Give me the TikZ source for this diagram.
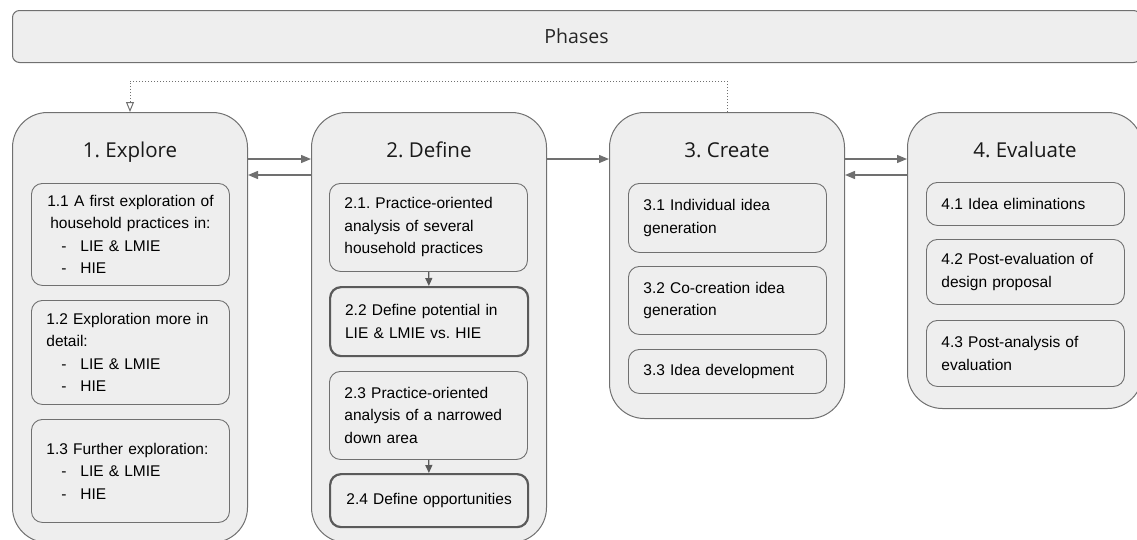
\documentclass[tikz,border=0pt]{standalone}
\usepackage{fontspec}
\setmainfont{Liberation Sans}
\newfontfamily\titlefont{Open Sans}
\usetikzlibrary{arrows.meta,positioning}
\definecolor{boxgray}{HTML}{EEEEEE}
\definecolor{linegray}{HTML}{707070}
\definecolor{darkline}{HTML}{5A5A5A}
\newcommand{\itm}[1]{\hspace*{15pt}\makebox[19pt][l]{-}#1}
\frenchspacing

\begin{document}
\begin{tikzpicture}[x=1pt,y=-1pt,
   phase/.style={draw=linegray, fill=boxgray, line width=1pt, rounded corners=35pt,
      anchor=north west, minimum width=235pt, inner sep=0pt},
   phasetitle/.style={anchor=base, font=\titlefont\fontsize{20.5}{24}\selectfont, text=black!90},
   task/.style={draw=linegray, fill=boxgray, line width=0.9pt, rounded corners=11pt,
      anchor=north west, minimum width=198pt, text width=168pt, inner xsep=15pt,
      inner ysep=0pt, align=left, font=\fontsize{15.5}{22.5}\selectfont, text=black},
   keytask/.style={task, draw=darkline, line width=2.2pt},
   link/.style={draw=linegray, line width=1.3pt, -{Triangle[length=10pt,width=8pt]}},
   seq/.style={draw=darkline, line width=1.2pt, -{Triangle[length=8pt,width=7pt]}}]
   \useasboundingbox (0,0) rectangle (1137,539);

   \node[draw=linegray, fill=boxgray, line width=1pt, rounded corners=7pt, anchor=north west,
      minimum width=1128pt, minimum height=52pt, inner sep=0pt,
      font=\titlefont\fontsize{19.5}{24}\selectfont, text=black!85] (phases) at (12,10) {Phases};

   \node[phase, minimum height=430pt] (explore) at (12,112) {};
   \node[phase, minimum height=430pt] (define) at (311,112) {};
   \node[phase, minimum height=306pt] (create) at (609,112) {};
   \node[phase, minimum height=296pt] (evaluate) at (907,112) {};

   \node[phasetitle] (t1) at ([yshift=-45pt]explore.north) {1. Explore};
   \node[phasetitle] (t2) at ([yshift=-45pt]define.north) {2. Define};
   \node[phasetitle] (t3) at ([yshift=-45pt]create.north) {3. Create};
   \node[phasetitle] (t4) at ([yshift=-45pt]evaluate.north) {4. Evaluate};

   \node[task, minimum height=102pt] (e1) at (31,183)
      {\makebox[168pt]{1.1 A first exploration of}\\\makebox[168pt]{household practices in:}\\\itm{LIE \& LMIE}\\\itm{HIE}};
   \node[task, minimum height=104pt] (e2) at (31,300)
      {1.2 Exploration more in\\detail:\\\itm{LIE \& LMIE}\\\itm{HIE}};
   \node[task, minimum height=103pt] (e3) at (31,419)
      {1.3 Further exploration:\\\itm{LIE \& LMIE}\\\itm{HIE}};

   \node[task, minimum height=88pt] (d1) at (329,183)
      {2.1. Practice-oriented\\analysis of several\\household practices};
   \node[keytask, minimum height=69pt] (d2) at (329,286)
      {2.2 Define potential in\\LIE \& LMIE vs. HIE};
   \node[task, minimum height=88pt] (d3) at (329,371)
      {2.3 Practice-oriented\\analysis of a narrowed\\down area};
   \node[keytask, minimum height=53pt, align=center] (d4) at (329,473)
      {2.4 Define opportunities};

   \node[task, minimum height=69pt] (c1) at (628,183) {3.1 Individual idea\\generation};
   \node[task, minimum height=68pt] (c2) at (628,266) {3.2 Co-creation idea\\generation};
   \node[task, minimum height=44pt] (c3) at (628,349) {3.3 Idea development};

   \node[task, minimum height=43pt] (v1) at (926,182) {4.1 Idea eliminations};
   \node[task, minimum height=65pt] (v2) at (926,239) {4.2 Post-evaluation of\\design proposal};
   \node[task, minimum height=66pt] (v3) at (926,320) {4.3 Post-analysis of\\evaluation};

   \draw[seq] (d1) -- (d2);
   \draw[seq] (d3) -- (d4);

   \draw[link] ([yshift=-47pt]explore.north east) -- ([yshift=-47pt]define.north west);
   \draw[link] ([yshift=-63pt]define.north west) -- ([yshift=-63pt]explore.north east);
   \draw[link] ([yshift=-47pt]define.north east) -- ([yshift=-47pt]create.north west);
   \draw[link] ([yshift=-47pt]create.north east) -- ([yshift=-47pt]evaluate.north west);
   \draw[link] ([yshift=-63pt]evaluate.north west) -- ([yshift=-63pt]create.north east);

   \draw[linegray, line width=1pt, dotted, -{Triangle[open, length=10pt, width=8pt]}]
      (create.north) -- ++(0,-31) -| (explore.north);
\end{tikzpicture}
\end{document}
